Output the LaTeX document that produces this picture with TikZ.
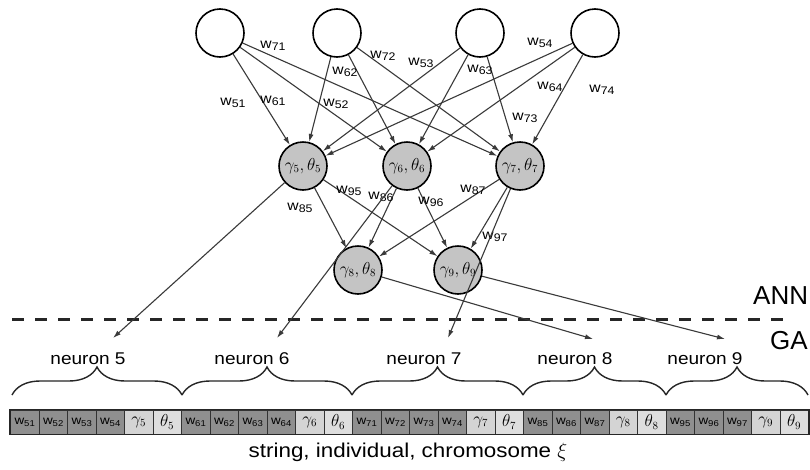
\documentclass[tikz,border=0pt]{standalone}
\usepackage{fontspec}
\setmainfont{Liberation Sans}
\newfontfamily\widesans{Liberation Sans}[FakeStretch=1.12]
\usetikzlibrary{arrows.meta,decorations.pathreplacing}

\definecolor{linkgray}{HTML}{3A3A3A}
\definecolor{neurongray}{HTML}{C4C4C4}
\definecolor{wcell}{HTML}{8F8F8F}
\definecolor{gcell}{HTML}{D4D4D4}
\definecolor{tcell}{HTML}{DEDEDE}

% weight label on a connection: w with lowered indices
\newcommand{\wlab}[1]{w\raisebox{-2.5pt}{\fontsize{11}{11}\selectfont #1}}
% weight label inside a chromosome cell
\newcommand{\wcl}[1]{w\raisebox{-1.8pt}{\fontsize{8.5}{8.5}\selectfont #1}}

\tikzset{
  inp/.style={circle, draw=black, line width=1.6pt, fill=white,
              minimum size=48pt, inner sep=0pt},
  hid/.style={circle, draw=black, line width=1.6pt, fill=neurongray,
              minimum size=48pt, inner sep=0pt, font=\fontsize{16}{16}\selectfont},
  link/.style={draw=linkgray, line width=1.1pt,
               -{Latex[length=8pt,width=5pt]}},
  wlabel/.style={inner sep=0pt, text=black,
                 font=\widesans\fontsize{14}{14}\selectfont},
  neurlabel/.style={inner sep=0pt, font=\widesans\fontsize{17}{17}\selectfont},
  sidelabel/.style={inner sep=0pt, anchor=west, font=\fontsize{26}{26}\selectfont},
  cellbase/.style={draw=black!80, line width=0.8pt, minimum width=28.5pt,
                   minimum height=24pt, inner sep=0pt, anchor=west},
  wc/.style={cellbase, fill=wcell, font=\widesans\fontsize{12}{12}\selectfont},
  gc/.style={cellbase, fill=gcell, font=\fontsize{16}{16}\selectfont},
  tc/.style={cellbase, fill=tcell, font=\fontsize{16}{16}\selectfont},
  genebrace/.style={decorate, decoration={brace, amplitude=28pt},
                    draw=black!85, line width=1.4pt},
}

\begin{document}
\begin{tikzpicture}[x=1pt, y=-1pt]
  \useasboundingbox[fill=white] (0,0) rectangle (810,469);

  % input layer
  \node[inp] (i1) at (220,33) {};
  \node[inp] (i2) at (337,33) {};
  \node[inp] (i3) at (480,33) {};
  \node[inp] (i4) at (595,33) {};

  % hidden and output neurons
  \node[hid] (h5) at (303,166) {$\gamma_5,\theta_5$};
  \node[hid] (h6) at (407,166) {$\gamma_6,\theta_6$};
  \node[hid] (h7) at (520,166) {$\gamma_7,\theta_7$};
  \node[hid] (h8) at (358,270) {$\gamma_8,\theta_8$};
  \node[hid] (h9) at (458,270) {$\gamma_9,\theta_9$};

  % connections input -> hidden
  \foreach \i in {1,...,4}
    \foreach \j in {5,6,7}
      \draw[link] (i\i) -- (h\j);

  % connections hidden -> output
  \foreach \j in {5,6,7}
    \foreach \k in {8,9}
      \draw[link] (h\j) -- (h\k);

  % weight labels
  \node[wlabel] (l71) at (273,46)  {\wlab{71}};
  \node[wlabel] (l72) at (383,56)  {\wlab{72}};
  \node[wlabel] (l53) at (421,63)  {\wlab{53}};
  \node[wlabel] (l54) at (540,43)  {\wlab{54}};
  \node[wlabel] (l62) at (345,72)  {\wlab{62}};
  \node[wlabel] (l63) at (480,70)  {\wlab{63}};
  \node[wlabel] (l51) at (233,103) {\wlab{51}};
  \node[wlabel] (l61) at (273,101) {\wlab{61}};
  \node[wlabel] (l52) at (336,104) {\wlab{52}};
  \node[wlabel] (l64) at (550,87)  {\wlab{64}};
  \node[wlabel] (l74) at (602,90)  {\wlab{74}};
  \node[wlabel] (l73) at (525,118) {\wlab{73}};
  \node[wlabel] (l95) at (349,191) {\wlab{95}};
  \node[wlabel] (l85) at (300,208) {\wlab{85}};
  \node[wlabel] (l86) at (381,197) {\wlab{86}};
  \node[wlabel] (l96) at (431,202) {\wlab{96}};
  \node[wlabel] (l87) at (473,190) {\wlab{87}};
  \node[wlabel] (l97) at (495,237) {\wlab{97}};

  % ANN / GA boundary
  \draw[line width=3pt, dash pattern=on 12pt off 11pt, black!85] (12,319) -- (792,319);
  \node[sidelabel] (ann) at (753,296) {ANN};
  \node[sidelabel] (ga)  at (770,341) {GA};

  % mapping of neurons onto genes
  \coordinate (g5) at (113,338);
  \coordinate (g6) at (277,338);
  \coordinate (g7) at (448,338);
  \coordinate (g8) at (593,339);
  \coordinate (g9) at (725,339);
  \foreach \j in {5,...,9}
    \draw[link] (h\j) -- (g\j);

  % neuron names
  \node[neurlabel] (n5) at (88,359)  {neuron 5};
  \node[neurlabel] (n6) at (252,359) {neuron 6};
  \node[neurlabel] (n7) at (424,359) {neuron 7};
  \node[neurlabel] (n8) at (575,359) {neuron 8};
  \node[neurlabel] (n9) at (705,359) {neuron 9};

  % braces grouping the genes of each neuron
  \draw[genebrace] (12,395)  -- (182,395);
  \draw[genebrace] (182,395) -- (352,395);
  \draw[genebrace] (352,395) -- (523,395);
  \draw[genebrace] (523,395) -- (666,395);
  \draw[genebrace] (666,395) -- (808,395);

  % the chromosome string
  \foreach \k/\sty/\txt in {
      0/wc/{\wcl{51}}, 1/wc/{\wcl{52}}, 2/wc/{\wcl{53}}, 3/wc/{\wcl{54}},
      4/gc/{$\gamma_5$}, 5/tc/{$\theta_5$},
      6/wc/{\wcl{61}}, 7/wc/{\wcl{62}}, 8/wc/{\wcl{63}}, 9/wc/{\wcl{64}},
      10/gc/{$\gamma_6$}, 11/tc/{$\theta_6$},
      12/wc/{\wcl{71}}, 13/wc/{\wcl{72}}, 14/wc/{\wcl{73}}, 15/wc/{\wcl{74}},
      16/gc/{$\gamma_7$}, 17/tc/{$\theta_7$},
      18/wc/{\wcl{85}}, 19/wc/{\wcl{86}}, 20/wc/{\wcl{87}},
      21/gc/{$\gamma_8$}, 22/tc/{$\theta_8$},
      23/wc/{\wcl{95}}, 24/wc/{\wcl{96}}, 25/wc/{\wcl{97}},
      26/gc/{$\gamma_9$}, 27/tc/{$\theta_9$}}
    \node[\sty] (c\k) at ({10+28.5*\k},422) {\txt};
  \draw[line width=1.4pt, black!85] (c0.north west) rectangle (c27.south east);

  \node[inner sep=0pt, font=\widesans\fontsize{20}{20}\selectfont] (cap) at (408,452)
    {string, individual, chromosome $\xi$};
\end{tikzpicture}
\end{document}
